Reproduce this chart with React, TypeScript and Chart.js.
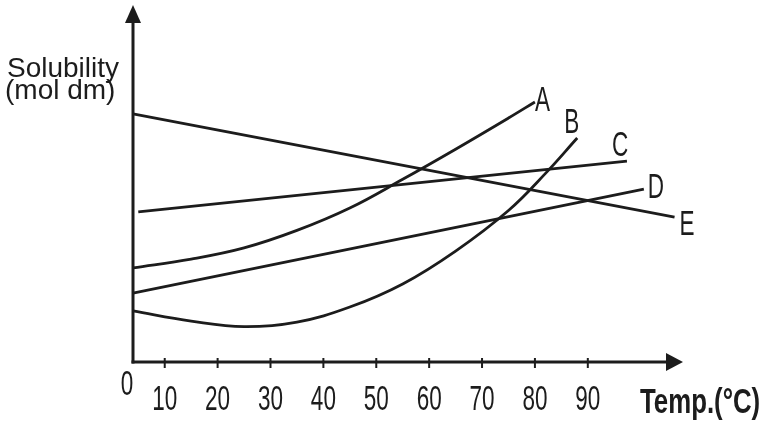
import React, { useEffect, useRef } from 'react';
import { Chart, registerables } from 'chart.js';

Chart.register(...registerables);

// ---- data (y in arbitrary solubility units) ----
const X_ORIGIN = 4; // temperature value where the axes cross (labelled "0")
const X_END = 108; // arrow tip of the temperature axis
const Y_MAX = 10;
const xTicks = [10, 20, 30, 40, 50, 60, 70, 80, 90];
const originLabel = '0';
const seriesNames = ['A', 'B', 'C', 'D', 'E'];

const tempA = [4, 15, 25, 35, 45, 55, 65, 75, 80];
const solA = [2.69, 2.94, 3.26, 3.76, 4.4, 5.22, 6.08, 6.97, 7.43];

const tempB = [4, 15, 25, 35, 45, 55, 65, 75, 82, 88];
const solB = [1.46, 1.17, 1.01, 1.14, 1.57, 2.23, 3.17, 4.33, 5.39, 6.4];

const tempC = [5, 97.4];
const solC = [4.29, 5.74];

const tempD = [4, 100.6];
const solD = [1.97, 4.94];

const tempE = [4, 106.4];
const solE = [7.09, 4.14];

const yTitle = ['Solubility', '(mol dm)'];
const xTitle = 'Temp.(°C)';

// ---- styling ----
const INK = '#1c1c1c';
const FONT = '"Liberation Sans", Arial, "DejaVu Sans", sans-serif';
const curved = { A: true, B: true, C: false, D: false, E: false } as Record<string, boolean>;
// label offset from the last point of each line: [dx to left edge, dy to baseline]
const labelOffsets: Record<string, [number, number]> = {
  A: [0, 9],
  B: [-13, -5],
  C: [-15, -5],
  D: [4, 9],
  E: [5, 18],
};

function zip(xs: number[], ys: number[]) {
  return xs.map((x, i) => ({ x, y: ys[i] }));
}

function drawText(
  ctx: CanvasRenderingContext2D,
  text: string,
  x: number,
  y: number,
  size: number,
  sx: number,
  sy: number,
  align: CanvasTextAlign,
  weight = 'normal'
) {
  ctx.save();
  ctx.translate(x, y);
  ctx.scale(sx, sy);
  ctx.font = `${weight} ${size}px ${FONT}`;
  ctx.textAlign = align;
  ctx.textBaseline = 'alphabetic';
  ctx.fillStyle = INK;
  ctx.fillText(text, 0, 0);
  ctx.restore();
}

const axesPlugin = {
  id: 'sketchAxes',
  beforeDatasetsDraw(chart: any) {
    const ctx: CanvasRenderingContext2D = chart.ctx;
    const { left, right, top, bottom } = chart.chartArea;
    const xs = chart.scales.x;
    ctx.save();
    ctx.strokeStyle = INK;
    ctx.fillStyle = INK;
    ctx.lineWidth = 3;
    ctx.lineCap = 'butt';
    // y axis
    const yTip = top - 7;
    ctx.beginPath();
    ctx.moveTo(left, bottom + 1.5);
    ctx.lineTo(left, yTip + 10);
    ctx.stroke();
    ctx.beginPath();
    ctx.moveTo(left, yTip);
    ctx.lineTo(left - 8, yTip + 18);
    ctx.lineTo(left + 8, yTip + 18);
    ctx.closePath();
    ctx.fill();
    // x axis
    ctx.beginPath();
    ctx.moveTo(left - 1.5, bottom);
    ctx.lineTo(right - 10, bottom);
    ctx.stroke();
    ctx.beginPath();
    ctx.moveTo(right, bottom);
    ctx.lineTo(right - 17, bottom - 9);
    ctx.lineTo(right - 17, bottom + 9);
    ctx.closePath();
    ctx.fill();
    // tick marks
    ctx.lineWidth = 2;
    xTicks.forEach((t) => {
      const px = xs.getPixelForValue(t);
      ctx.beginPath();
      ctx.moveTo(px, bottom - 4);
      ctx.lineTo(px, bottom + 6);
      ctx.stroke();
    });
    ctx.restore();
  },
  afterDatasetsDraw(chart: any) {
    const ctx: CanvasRenderingContext2D = chart.ctx;
    const { left, right, bottom } = chart.chartArea;
    const xs = chart.scales.x;
    // tick labels
    xTicks.forEach((t) => {
      const px = xs.getPixelForValue(t);
      drawText(ctx, String(t), px, bottom + 48, 30, 0.75, 1.16, 'center');
    });
    drawText(ctx, originLabel, left - 6, bottom + 33, 30, 0.75, 1.16, 'center');
    // axis titles
    drawText(ctx, xTitle, right - 43, bottom + 51, 30, 0.86, 1.16, 'left', 'bold');
    drawText(ctx, yTitle[0], left - 126, 77, 28, 1, 1, 'left');
    drawText(ctx, yTitle[1], left - 128, 99, 28, 1, 1, 'left');
    // series labels
    chart.data.datasets.forEach((ds: any, i: number) => {
      const meta = chart.getDatasetMeta(i);
      const last = meta.data[meta.data.length - 1];
      const off = labelOffsets[ds.label];
      drawText(ctx, ds.label, last.x + off[0], last.y + off[1], 30, 0.75, 1.16, 'left');
    });
  },
};

export default function App() {
  const ref = useRef<HTMLCanvasElement | null>(null);
  useEffect(() => {
    if (!ref.current) return;
    const sets = [
      [tempA, solA],
      [tempB, solB],
      [tempC, solC],
      [tempD, solD],
      [tempE, solE],
    ];
    const chart = new Chart(ref.current, {
      type: 'line',
      data: {
        datasets: seriesNames.map((name, i) => ({
          label: name,
          data: zip(sets[i][0], sets[i][1]),
          borderColor: INK,
          borderWidth: 2.8,
          pointRadius: 0,
          fill: false,
          clip: false as any,
          cubicInterpolationMode: 'default',
          tension: curved[name] ? 0.4 : 0,
        })) as any,
      },
      options: {
        animation: false,
        responsive: false,
        layout: { padding: { left: 133, right: 82, top: 12, bottom: 68 } },
        scales: {
          x: { type: 'linear', min: X_ORIGIN, max: X_END, display: false },
          y: { type: 'linear', min: 0, max: Y_MAX, display: false },
        },
        plugins: { legend: { display: false }, tooltip: { enabled: false } },
      },
      plugins: [axesPlugin],
    });
    return () => chart.destroy();
  }, []);
  return (
    <div style={{ position: 'fixed', left: 0, top: 0, width: 765, height: 430, background: '#fff' }}>
      <canvas ref={ref} width={765} height={430} />
    </div>
  );
}
